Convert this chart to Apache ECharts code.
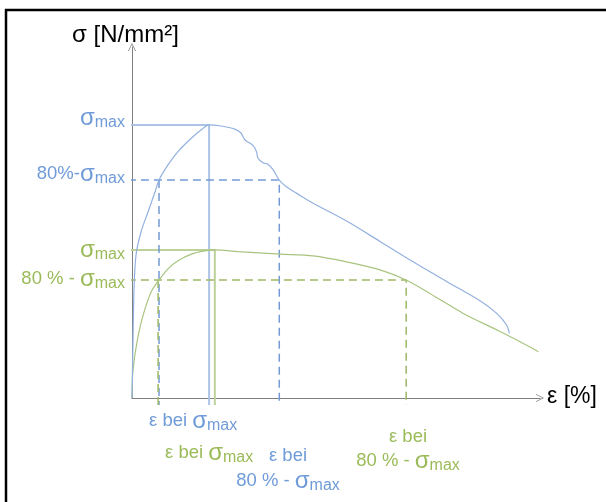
<!DOCTYPE html>
<html>
<head>
<meta charset="utf-8">
<script src="https://cdn.jsdelivr.net/npm/echarts@6/dist/echarts.min.js"></script>
<style>html,body{margin:0;padding:0;background:#fff;overflow:hidden}#c{width:606px;height:502px}</style>
</head>
<body>
<div id="c"></div>
<script>
// Schematic stress–strain curves (arbitrary units: strain 0..100, stress 0..100)
const blueStrain = [0,0.25,0.49,0.98,2.21,3.92,5.64,6.62,8.82,11.27,14.53,16.99,18.9,21.8,25.2,26.7,27.7,29.7,30.5,30.9,32.1,33.3,34.6,36.1,38.2,40.4,44.4,52.6,60.8,68.9,77.1,85.3,89.4,91.8,92.5];
const blueStress = [0,16.5,30.8,40.7,47.3,53.0,58.7,62.1,66.4,70.2,74.0,76.4,77.8,77.5,76.6,75.5,73.5,71.9,70.2,68.3,67.0,66.6,65.0,62.1,59.9,58.3,55.5,50.4,44.6,38.8,33.2,27.7,24.1,20.8,18.4];
const greenStrain = [0,0.25,1.47,3.11,4.73,6.62,8.82,11.27,14.53,17.8,20.3,26.0,36.3,44.4,52.6,60.8,67.2,73.0,81.2,89.4,93.5,99.6];
const greenStress = [0,8.0,17.5,25.1,30.3,33.6,36.8,39.1,41.0,41.9,42.2,41.7,41.0,40.5,38.8,36.5,33.6,29.8,24.1,19.4,17.0,13.2];

const blueSigmaMax = 77.8, blueStrainAtMax = 18.9;
const blueSigma80 = 62.1, blueStrain80Left = 6.62, blueStrain80Right = 36.1;
const greenSigmaMax = 42.2, greenStrainAtMax = 20.3;
const greenSigma80 = 33.6, greenStrain80Left = 6.4, greenStrain80Right = 67.2;

const xLeft = -1, yBelow = -2;

const BLUE_TXT = '#6f9bd9', BLUE_LINE = '#93b1e0', BLUE_DASH = '#7499d3', BLUE_SOLID = '#adc3e6';
const GREEN_TXT = '#9bbb59', GREEN_LINE = '#a9c47f', GREEN_DASH = '#9db866', GREEN_SOLID = '#bdd19a';
const FONT = '"Liberation Sans", Arial, sans-serif';

function guide(points, color, dashed) {
  return {type: 'line', data: points, symbol: 'none', clip: false, silent: true, smooth: false,
    lineStyle: {color: color, width: dashed ? 1.5 : 2, type: dashed ? [8, 5] : 'solid'}, z: 2};
}

function rich(color) {
  return {
    n: {fontSize: 18.5, fill: color, fontFamily: FONT},
    s: {fontSize: 24, fill: color, fontFamily: FONT},
    m: {fontSize: 16, fill: color, fontFamily: FONT, padding: [9, 0, 0, 0]}
  };
}
function label(x, y, text, color, align) {
  return {type: 'text', x: x, y: y, silent: true,
    style: {text: text, rich: rich(color), align: align, verticalAlign: 'middle', fill: color, fontSize: 18, fontFamily: FONT}};
}

const arrow = 'path://M0,10 L5,0 L10,10 L9,10 L5,2 L1,10 Z';

const chart = echarts.init(document.getElementById('c'), null, {renderer: 'canvas'});
chart.setOption({
  animation: false,
  backgroundColor: '#fff',
  grid: {left: 132, top: 47, width: 408, height: 351},
  xAxis: {type: 'value', min: 0, max: 100,
    axisLine: {show: true, onZero: false, lineStyle: {color: '#7f7f7f', width: 1}, symbol: ['none', arrow], symbolSize: [9, 8]},
    axisTick: {show: false}, axisLabel: {show: false}, splitLine: {show: false}},
  yAxis: {type: 'value', min: 0, max: 100,
    axisLine: {show: true, onZero: false, lineStyle: {color: '#7f7f7f', width: 1}, symbol: ['none', arrow], symbolSize: [9, 8]},
    axisTick: {show: false}, axisLabel: {show: false}, splitLine: {show: false}},
  series: [
    guide([[xLeft, blueSigmaMax], [blueStrainAtMax, blueSigmaMax], [blueStrainAtMax, yBelow]], BLUE_SOLID, false),
    guide([[xLeft, greenSigmaMax], [greenStrainAtMax, greenSigmaMax], [greenStrainAtMax, yBelow]], GREEN_SOLID, false),
    guide([[xLeft, blueSigma80], [blueStrain80Right, blueSigma80], [blueStrain80Right, yBelow]], BLUE_DASH, true),
    guide([[blueStrain80Left, blueSigma80], [blueStrain80Left, yBelow]], BLUE_DASH, true),
    guide([[xLeft, greenSigma80], [greenStrain80Right, greenSigma80], [greenStrain80Right, yBelow]], GREEN_DASH, true),
    guide([[greenStrain80Left, greenSigma80], [greenStrain80Left, yBelow]], GREEN_DASH, true),
    {type: 'line', name: 'blue', data: blueStrain.map((x, i) => [x, blueStress[i]]),
     smooth: 0.3, symbol: 'none', clip: false, silent: true, lineStyle: {color: BLUE_LINE, width: 1.2}, z: 5},
    {type: 'line', name: 'green', data: greenStrain.map((x, i) => [x, greenStress[i]]),
     smooth: 0.3, symbol: 'none', clip: false, silent: true, lineStyle: {color: GREEN_LINE, width: 1.2}, z: 4}
  ],
  graphic: [
    {type: 'line', silent: true, shape: {x1: 6, y1: 9, x2: 6, y2: 502}, style: {stroke: '#000', lineWidth: 2.5}},
    {type: 'line', silent: true, shape: {x1: 5, y1: 10, x2: 606, y2: 10}, style: {stroke: '#000', lineWidth: 2.5}},
    {type: 'text', x: 72, y: 35, silent: true, style: {text: 'σ [N/mm²]', fill: '#000', fontSize: 24, fontFamily: FONT, align: 'left', verticalAlign: 'middle'}},
    {type: 'text', x: 547, y: 397, silent: true, style: {text: 'ε [%]', fill: '#000', fontSize: 23, fontFamily: FONT, align: 'left', verticalAlign: 'middle'}},
    label(125, 118, '{s|σ}{m|max}', BLUE_TXT, 'right'),
    label(125, 174, '{n|80%-}{s|σ}{m|max}', BLUE_TXT, 'right'),
    label(125, 250, '{s|σ}{m|max}', GREEN_TXT, 'right'),
    label(125, 279, '{n|80 % - }{s|σ}{m|max}', GREEN_TXT, 'right'),
    label(149, 421, '{n|ε bei }{s|σ}{m|max}', BLUE_TXT, 'left'),
    label(165, 453, '{n|ε bei }{s|σ}{m|max}', GREEN_TXT, 'left'),
    label(288, 456, '{n|ε bei}', BLUE_TXT, 'center'),
    label(288, 481, '{n|80 % - }{s|σ}{m|max}', BLUE_TXT, 'center'),
    label(408, 437, '{n|ε bei}', GREEN_TXT, 'center'),
    label(408, 461, '{n|80 % - }{s|σ}{m|max}', GREEN_TXT, 'center')
  ]
});
</script>
</body>
</html>
